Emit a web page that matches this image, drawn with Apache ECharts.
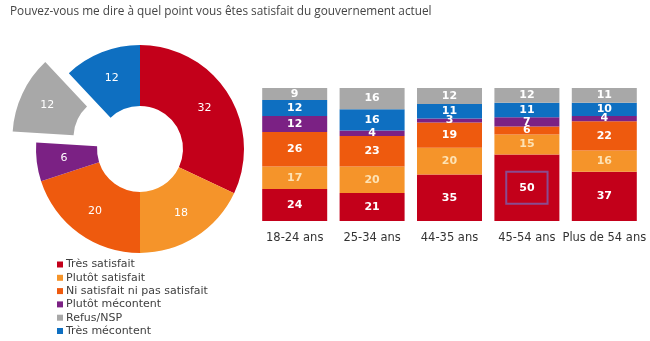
<!DOCTYPE html>
<html>
<head>
<meta charset="utf-8">
<script src="https://cdn.jsdelivr.net/npm/echarts@6/dist/echarts.min.js"></script>
<style>html,body{margin:0;padding:0;background:#fff}#c{width:650px;height:341px}</style>
</head>
<body>
<div id="c"></div>
<script>
const titleText = 'Pouvez-vous me dire à quel point vous êtes satisfait du gouvernement actuel';
const seriesNames = ['Très satisfait','Plutôt satisfait','Ni satisfait ni pas satisfait','Plutôt mécontent','Refus/NSP','Très mécontent'];
const colors = {
  'Très satisfait': '#c3001a',
  'Plutôt satisfait': '#f5942a',
  'Ni satisfait ni pas satisfait': '#ee5a0e',
  'Plutôt mécontent': '#7b2184',
  'Refus/NSP': '#a8a8a8',
  'Très mécontent': '#0e6fc1'
};
// Donut (overall)
const pieValues = [32, 18, 20, 6, 12, 12];
// Stacked bars by age
const categories = ['18-24 ans','25-34 ans','44-35 ans','45-54 ans','Plus de 54 ans'];
const tresSatisfait = [24, 21, 35, 50, 37];
const plutotSatisfait = [17, 20, 20, 15, 16];
const niSatisfait = [26, 23, 19, 6, 22];
const plutotMecontent = [12, 4, 3, 7, 4];
const tresMecontent = [12, 16, 11, 11, 10];
const refusNSP = [9, 16, 12, 12, 11];

const barOrder = [
  ['Très satisfait', tresSatisfait],
  ['Plutôt satisfait', plutotSatisfait],
  ['Ni satisfait ni pas satisfait', niSatisfait],
  ['Plutôt mécontent', plutotMecontent],
  ['Très mécontent', tresMecontent],
  ['Refus/NSP', refusNSP]
];

const chart = echarts.init(document.getElementById('c'), null, {renderer: 'canvas'});
const font = 'DejaVu Sans, Verdana, sans-serif';

const barSeries = barOrder.map(([name, arr]) => ({
  name: name,
  type: 'bar',
  stack: 'age',
  barWidth: 65,
  itemStyle: {color: colors[name]},
  emphasis: {disabled: true},
  label: {
    show: true,
    position: 'inside',
    color: name === 'Plutôt satisfait' ? '#fde2b4' : '#ffffff',
    fontFamily: font,
    fontWeight: 'bold',
    fontSize: 11
  },
  data: arr.map((v, i) => {
    if (name === 'Très satisfait' && v === 50) {
      return {value: v, label: {borderColor: '#8a4b90', borderWidth: 2, padding: [11, 13, 10, 13]}};
    }
    return v;
  })
}));

chart.setOption({
  animation: false,
  color: seriesNames.map(n => colors[n]),
  title: {
    text: titleText,
    left: 5, top: 1,
    textStyle: {fontFamily: 'Open Sans, sans-serif', fontSize: 11.8, fontWeight: 'normal', color: '#444'}
  },
  legend: {
    orient: 'vertical',
    left: 52, top: 253,
    height: 86,
    data: seriesNames,
    icon: 'rect',
    itemWidth: 6, itemHeight: 6, itemGap: 0.3,
    selectedMode: false,
    textStyle: {fontFamily: font, fontSize: 11, lineHeight: 13, color: '#404040', padding: [0, 0, 0, -2]}
  },
  grid: {left: 256, right: 7, top: 88, bottom: 120},
  xAxis: {
    type: 'category',
    data: categories,
    axisLine: {show: false},
    axisTick: {show: false},
    axisLabel: {interval: 0, fontFamily: font, fontSize: 11.5, color: '#333', margin: 11}
  },
  yAxis: {type: 'value', min: 0, max: 100, show: false, splitLine: {show: false}},
  series: [
    {
      type: 'pie',
      center: [140, 149],
      radius: [43, 104],
      startAngle: 90,
      selectedMode: 'single',
      selectedOffset: 26,
      emphasis: {disabled: true},
      label: {show: true, position: 'inner', formatter: '{c}', color: '#fff', fontFamily: font, fontSize: 11},
      labelLine: {show: false},
      data: seriesNames.map((n, i) => ({
        name: n, value: pieValues[i],
        itemStyle: {color: colors[n]},
        selected: n === 'Refus/NSP'
      }))
    },
    ...barSeries
  ]
});
</script>
</body>
</html>
